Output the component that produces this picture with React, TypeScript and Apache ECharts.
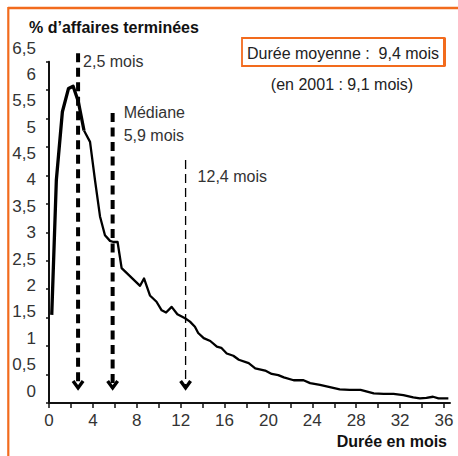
import React, { useEffect, useRef } from "react";
import * as echarts from "echarts";

// Monthly distribution of terminated cases (month, % of cases)
const months = [0.25, 0.67, 1.22, 1.78, 2.2, 2.67, 3.19, 3.74, 4.19, 4.65, 5.1, 5.56, 5.87, 6.25, 6.62, 8.3, 8.66, 9.2, 9.8, 10.27, 10.67, 11.18, 11.7, 12.4, 12.85, 13.3, 13.6, 14.1, 14.7, 15.3, 15.7, 16.2, 16.8, 17.3, 18.2, 18.8, 19.7, 20.3, 20.9, 21.4, 22.3, 23.2, 23.8, 24.7, 25.6, 26.5, 27.4, 28.4, 29.0, 29.6, 30.5, 31.4, 32.3, 33.2, 33.8, 34.4, 35.0, 35.5, 36.4];
const percents = [1.55, 3.92, 5.12, 5.53, 5.57, 5.3, 4.79, 4.59, 3.92, 3.28, 2.95, 2.85, 2.83, 2.83, 2.37, 2.06, 2.19, 1.89, 1.78, 1.63, 1.59, 1.69, 1.56, 1.49, 1.43, 1.34, 1.23, 1.14, 1.09, 0.99, 0.97, 0.87, 0.83, 0.76, 0.70, 0.61, 0.57, 0.51, 0.49, 0.45, 0.40, 0.40, 0.35, 0.32, 0.28, 0.24, 0.23, 0.23, 0.20, 0.17, 0.16, 0.16, 0.14, 0.10, 0.08, 0.09, 0.11, 0.08, 0.08];
// index where the drawn line becomes thinner
const thickUntil = 6;

const xTickValues = [0, 2, 4, 6, 8, 10, 12, 14, 16, 18, 20, 22, 24, 26, 28, 30, 32, 34, 36];
const xLabelValues = [0, 4, 8, 12, 16, 20, 24, 28, 32, 36];
const yTickValues = [0, 0.5, 1, 1.5, 2, 2.5, 3, 3.5, 4, 4.5, 5, 5.5, 6];
const yLabels = ["0", "0,5", "1", "1,5", "2", "2,5", "3", "3,5", "4", "4,5", "5", "5,5", "6", "6,5"];

// Reference lines: month position, top value, bottom value, label anchor value
const refMonths = [2.65, 5.8, 12.45];
const refTops = [6.15, 5.1, 4.27];
const refBottoms = [0.23, 0.23, 0.23];
const refLabelValues = [6.0, 4.9, 3.99];
const refLabels = ["2,5 mois", "Médiane\n5,9 mois", "12,4 mois"];

const titleText = "% d’affaires terminées";
const xName = "Durée en mois";
const meanText = "Durée moyenne :  9,4 mois";
const prevMeanText = "(en 2001 : 9,1 mois)";

const FONT = "'Liberation Sans', Arial, sans-serif";
const ORANGE = "#f26b1d";

const refStyles = [
  { width: 4, dash: [9, 5.5], dx: 5 },
  { width: 4, dash: [9, 5.5], dx: 11 },
  { width: 1.3, dash: [9, 5], dx: 12 },
];

export default function App() {
  const ref = useRef<HTMLDivElement>(null);
  useEffect(() => {
    if (!ref.current) return;
    const chart = echarts.init(ref.current, undefined, { renderer: "svg" });
    const refData = refMonths.map((m, i) => [m, refTops[i], refBottoms[i], refLabelValues[i]]);
    const pts = months.map((m, i) => [m, percents[i]]);
    chart.setOption({
      animation: false,
      backgroundColor: "#ffffff",
      title: {
        text: titleText,
        left: 24,
        top: 14,
        textStyle: { fontFamily: FONT, fontSize: 16, fontWeight: "bold", color: "#111" },
      },
      grid: [
        { left: 49, top: 61.7, right: 8, bottom: 53, containLabel: false },
        { left: 49, top: 48, right: 8, bottom: 65, containLabel: false },
      ],
      xAxis: [
        {
          type: "value",
          gridIndex: 0,
          min: 0,
          max: 36.55,
          axisLine: { show: true, onZero: false, lineStyle: { color: "#111", width: 2 } },
          axisTick: { show: true, length: 5, customValues: xTickValues, lineStyle: { color: "#111", width: 1.5 } },
          axisLabel: {
            customValues: xLabelValues,
            margin: 9,
            fontFamily: FONT,
            fontSize: 17,
            color: "#333",
            formatter: (v: number) => String(v),
          },
          splitLine: { show: false },
        },
        { type: "value", gridIndex: 1, min: 0, max: 1, show: false },
      ],
      yAxis: [
        {
          type: "value",
          gridIndex: 0,
          min: 0,
          max: 6,
          interval: 0.5,
          axisLine: { show: true, lineStyle: { color: "#111", width: 2 } },
          axisTick: { show: true, length: 3, customValues: yTickValues, lineStyle: { color: "#111", width: 1.5 } },
          axisLabel: { show: false },
          splitLine: { show: false },
        },
        {
          type: "category",
          gridIndex: 1,
          data: yLabels,
          boundaryGap: false,
          axisLine: { show: false },
          axisTick: { show: false },
          splitLine: { show: false },
          axisLabel: { margin: 13, fontFamily: FONT, fontSize: 17, color: "#333", interval: 0 },
        },
      ],
      series: [
        {
          type: "line",
          xAxisIndex: 0,
          yAxisIndex: 0,
          data: pts.slice(0, thickUntil + 1),
          symbol: "none",
          lineStyle: { color: "#000", width: 3.3, join: "round" },
          silent: true,
          z: 3,
        },
        {
          type: "line",
          xAxisIndex: 0,
          yAxisIndex: 0,
          data: pts.slice(thickUntil),
          symbol: "none",
          lineStyle: { color: "#000", width: 2.3, join: "round" },
          silent: true,
          z: 3,
        },
        {
          type: "custom",
          xAxisIndex: 0,
          yAxisIndex: 0,
          data: refData,
          clip: false,
          silent: true,
          z: 4,
          renderItem: (params: any, api: any) => {
            const i = params.dataIndex;
            const st = refStyles[i];
            const x = api.value(0);
            const pTop = api.coord([x, api.value(1)]);
            const pBot = api.coord([x, api.value(2)]);
            const pLab = api.coord([x, api.value(3)]);
            return {
              type: "group",
              children: [
                {
                  type: "line",
                  shape: { x1: pTop[0], y1: pTop[1], x2: pBot[0], y2: pBot[1] - 3 },
                  style: { stroke: "#000", lineWidth: st.width, lineDash: st.dash },
                },
                {
                  type: "polyline",
                  shape: {
                    points: [
                      [pBot[0] - 5, pBot[1] - 9],
                      [pBot[0], pBot[1] - 2],
                      [pBot[0] + 5, pBot[1] - 9],
                    ],
                  },
                  style: { stroke: "#000", lineWidth: 3.4, fill: "none", lineJoin: "miter" },
                },
                {
                  type: "text",
                  x: pLab[0] + st.dx,
                  y: pLab[1],
                  style: {
                    text: refLabels[i],
                    fontFamily: FONT,
                    fontSize: 16,
                    lineHeight: 23,
                    fill: "#333",
                    verticalAlign: "middle",
                    align: "left",
                  },
                },
              ],
            };
          },
        },
      ],
      graphic: [
        { type: "line", shape: { x1: 8, y1: 8, x2: 458, y2: 8 }, style: { stroke: ORANGE, lineWidth: 2.5 } },
        { type: "line", shape: { x1: 8.3, y1: 7, x2: 8.3, y2: 456 }, style: { stroke: ORANGE, lineWidth: 2.2 } },
        { type: "rect", shape: { x: 242, y: 38, width: 202, height: 28 }, style: { stroke: ORANGE, lineWidth: 1.8, fill: "#fff" } },
        { type: "line", shape: { x1: 444.5, y1: 37.5, x2: 444.5, y2: 66.5 }, style: { stroke: ORANGE, lineWidth: 3 } },
        {
          type: "text",
          x: 343,
          y: 53,
          style: { text: meanText, fontFamily: FONT, fontSize: 16, fill: "#222", align: "center", verticalAlign: "middle" },
        },
        {
          type: "text",
          x: 342,
          y: 84,
          style: { text: prevMeanText, fontFamily: FONT, fontSize: 16, fill: "#222", align: "center", verticalAlign: "middle" },
        },
        {
          type: "text",
          x: 447,
          y: 441,
          style: { text: xName, fontFamily: FONT, fontSize: 16, fontWeight: "bold", fill: "#111", align: "right", verticalAlign: "middle" },
        },
      ],
    });
    return () => chart.dispose();
  }, []);
  return <div ref={ref} style={{ position: "fixed", left: 0, top: 0, width: 458, height: 456 }} />;
}
